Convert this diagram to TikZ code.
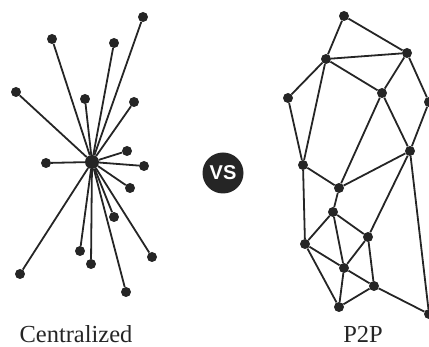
\documentclass[tikz,border=0pt]{standalone}
\usepackage{fontspec}
\setmainfont{Liberation Serif}
\newfontfamily\vsfont{Liberation Sans}
\definecolor{ink}{HTML}{252525}

\begin{document}
\begin{tikzpicture}[x=1pt,y=-1pt]
				\tikzstyle{every node}+=[inner sep=0pt]
				\tikzstyle{dot}=[circle,fill=ink,minimum size=10pt]
				\tikzstyle{hubdot}=[circle,fill=ink,minimum size=14pt]
				\tikzstyle{wire}=[draw=ink,line width=1.8pt]
				\tikzstyle{caption}=[anchor=base,text=ink,text depth=0pt,font=\fontsize{24.5}{28}\selectfont]
				\useasboundingbox (0,0) rectangle (429,347);
				% star
				\node [hubdot] (hub) at (92,162) {};
				\foreach \n/\x/\y in {s1/143/17,s2/52/39,s3/114/43,s4/16/92,s5/85/99,s6/134/102,s7/127/151,s8/46/163,s9/144/166,s10/130/188,s11/114/217,s12/80/251,s13/152/257,s14/91/264,s15/20/274,s16/126/292}
				{
					\node [dot] (\n) at (\x,\y) {};
					\draw [wire] (hub) -- (\n);
				}
				\node [caption] (lcent) at (76,343) {Centralized};
				% vs badge
				\node [circle,fill=ink,minimum size=41pt,text=white,font=\vsfont\bfseries\fontsize{20}{22}\selectfont] (vs) at (223,173) {VS};
				% mesh
				\foreach \n/\x/\y in {a/344/16,b/326/59,c/407/53,d/288/98,e/382/93,f/429/102,g/410/151,h/303/165,i/339/188,j/333/212,k/368/237,l/305/244,m/344/268,n/374/286,o/339/307,p/429/314}
					\node [dot] (\n) at (\x,\y) {};
				\foreach \u/\v in {a/b,a/c,b/c,b/d,b/e,b/h,c/e,c/f,d/h,e/g,e/i,f/g,g/i,g/k,g/p,h/i,h/l,i/j,j/k,j/l,j/m,k/m,k/n,l/m,l/o,m/n,m/o,n/o,n/p}
					\draw [wire] (\u) -- (\v);
				\node [caption] (lp2p) at (363,343) {P2P};
			\end{tikzpicture}
\end{document}
